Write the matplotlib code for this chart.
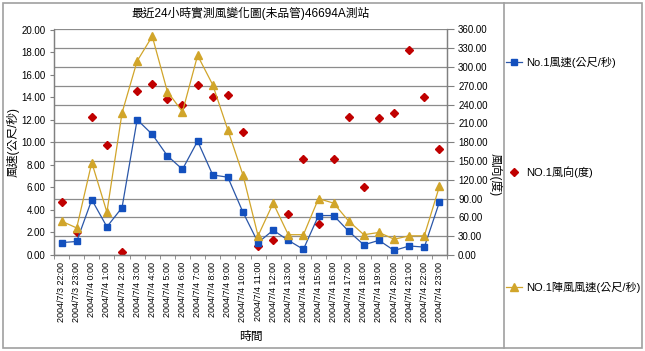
import matplotlib
matplotlib.use("Agg")
import matplotlib.pyplot as plt
from matplotlib.lines import Line2D
from matplotlib.patches import Rectangle
import numpy as np

plt.rcParams['font.family'] = ['Liberation Sans', 'Noto Sans CJK TC', 'DejaVu Sans']

times = ["2004/7/3 22:00", "2004/7/3 23:00"] + [f"2004/7/4 {h}:00" for h in range(24)]
wind_speed = [1.1, 1.2, 4.9, 2.5, 4.2, 12.0, 10.7, 8.8, 7.6, 10.1, 7.1, 6.9, 3.8,
              1.1, 2.2, 1.3, 0.5, 3.5, 3.5, 2.1, 0.9, 1.3, 0.4, 0.8, 0.7, 4.7]
gust_speed = [3.0, 2.4, 8.2, 3.8, 12.6, 17.2, 19.4, 14.5, 12.7, 17.7, 15.1, 11.1, 7.1,
              1.7, 4.6, 1.8, 1.8, 5.0, 4.6, 3.0, 1.8, 2.0, 1.4, 1.7, 1.7, 6.1]
wind_dir = [85, 36, 220, 176, 4, 262, 273, 249, 240, 271, 252, 256, 196,
            14, 24, 66, 153, 49, 154, 221, 109, 219, 226, 328, 253, 169]

title = "最近24小時實測風變化圖(未品管)46694A測站"
lbl_speed = "No.1風速(公尺/秒)"
lbl_dir = "NO.1風向(度)"
lbl_gust = "NO.1陣風風速(公尺/秒)"

W, H = 645, 351
fig = plt.figure(figsize=(W / 100, H / 100), dpi=100)
fig.patch.set_facecolor('white')

L, R, T, B = 54, 447, 29.5, 255
ax = fig.add_axes([L / W, 1 - B / H, (R - L) / W, (B - T) / H])
ax2 = ax.twinx()
ax.set_zorder(ax2.get_zorder() + 1)
ax.patch.set_visible(False)

x = np.arange(len(times))
blue_line = '#2A56A8'
blue_mk = '#1350BE'
gold = '#D1A52A'
red = '#C00000'

ax2.plot(x, wind_dir, linestyle='none', marker='D', markersize=3.6,
         color=red, markeredgecolor=red)
ax.plot(x, wind_speed, color=blue_line, linewidth=0.9, marker='s', markersize=4,
        markerfacecolor=blue_mk, markeredgecolor=blue_mk)
ax.plot(x, gust_speed, color=gold, linewidth=0.9, marker='^', markersize=6,
        markerfacecolor=gold, markeredgecolor=gold)

ax.set_xlim(-0.5, len(times) - 0.5)
ax.set_ylim(0, 20)
ax2.set_ylim(0, 360)
ax.set_yticks(np.arange(0, 20.01, 2))
ax.set_yticklabels([f"{v:.2f}" for v in np.arange(0, 20.01, 2)], fontsize=7)
ax2.set_yticks(np.arange(0, 360.1, 30))
ax2.set_yticklabels([f"{v:.2f}" for v in np.arange(0, 360.1, 30)], fontsize=7)
ax2.grid(axis='y', color='#8C8C8C', linewidth=0.9)
ax2.set_axisbelow(True)

ax.set_xticks(x)
ax.set_xticklabels(times, rotation=90, fontsize=6.5)
ax.set_xticks(np.arange(-0.5, len(times), 1), minor=True)
ax.tick_params(axis='x', which='major', length=0, pad=5)
ax.tick_params(axis='x', which='minor', length=3, direction='out', color='#808080')
ax.tick_params(axis='y', length=3, color='#808080', pad=3)
ax2.tick_params(axis='y', length=5, color='#808080', pad=3)

for a in (ax, ax2):
    for s in a.spines.values():
        s.set_color('#808080')
        s.set_linewidth(0.9)
ax.spines['top'].set_visible(False)
ax2.spines['top'].set_visible(False)

ax.set_title(title, fontsize=8.5, pad=9)
fig.text(251 / W, 1 - 337 / H, "時間", fontsize=8.5, ha='center', va='center')
fig.text(13 / W, 1 - 142 / H, "風速(公尺/秒)", rotation=90, fontsize=8.5,
         ha='center', va='center')
fig.text(495 / W, 1 - 175 / H, "風向(度)", rotation=270, fontsize=8.5,
         ha='center', va='center')

# frames
fig.add_artist(Rectangle((3 / W, 1 - 347.5 / H), 639 / W, 344.5 / H, transform=fig.transFigure,
                         fill=False, edgecolor='#A0A0A0', linewidth=1.2))
fig.add_artist(Line2D([503.5 / W, 503.5 / W], [1 - 347.5 / H, 1 - 3 / H],
                      transform=fig.transFigure, color='#A0A0A0', linewidth=1.2))

# legend entries
handles = [
    (Line2D([], [], color=blue_line, linewidth=0.9, marker='s', markersize=4,
            markerfacecolor=blue_mk, markeredgecolor=blue_mk), lbl_speed, 62),
    (Line2D([], [], linestyle='none', marker='D', markersize=3.6, color=red), lbl_dir, 172),
    (Line2D([], [], color=gold, linewidth=0.9, marker='^', markersize=6,
            markerfacecolor=gold, markeredgecolor=gold), lbl_gust, 287),
]
for h, lab, yy in handles:
    fig.legend([h], [lab], loc='center left', bbox_to_anchor=(503 / W, 1 - yy / H),
               frameon=False, fontsize=8, handlelength=1.4, handletextpad=0.4,
               borderaxespad=0, borderpad=0.3)

fig.savefig("out.png", dpi=100, facecolor='white')
